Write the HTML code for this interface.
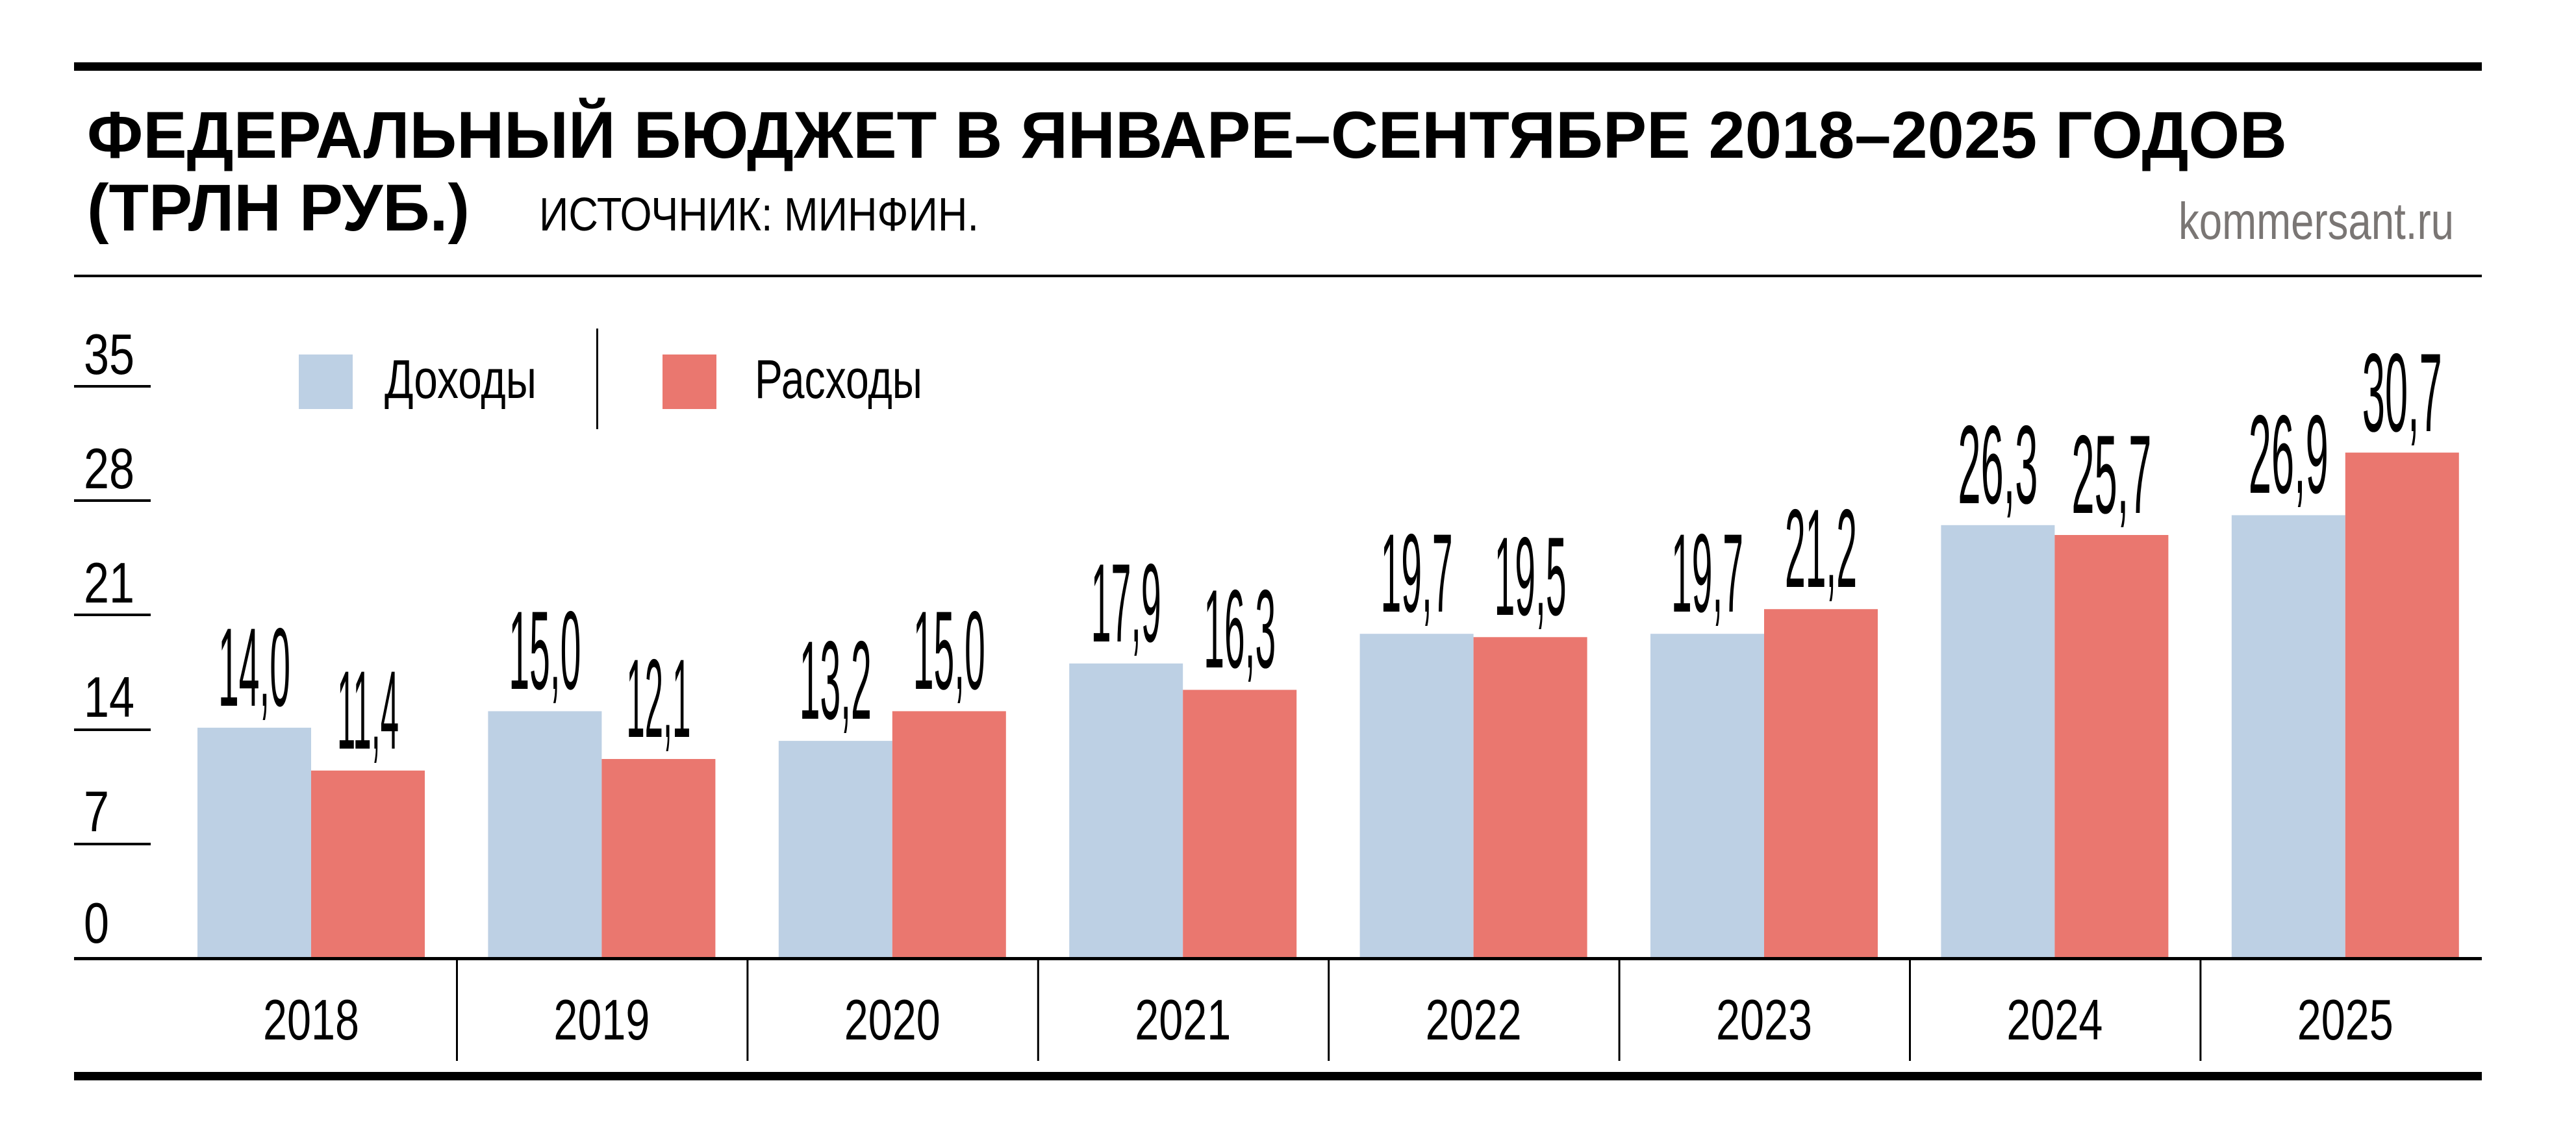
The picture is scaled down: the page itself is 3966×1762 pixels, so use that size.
<!DOCTYPE html>
<html><head><meta charset="utf-8"><style>
html,body{margin:0;padding:0;background:#fff;}
svg{display:block;}
text{font-family:"Liberation Sans",sans-serif;}
</style></head><body>
<svg width="3966" height="1762" viewBox="0 0 3966 1762" xmlns="http://www.w3.org/2000/svg">
<rect x="0" y="0" width="3966" height="1762" fill="#fff"/>
<rect x="114" y="96" width="3707" height="13" fill="#000"/>
<text x="134" y="243" font-size="102" font-weight="bold" textLength="3387" lengthAdjust="spacingAndGlyphs">ФЕДЕРАЛЬНЫЙ БЮДЖЕТ В ЯНВАРЕ–СЕНТЯБРЕ 2018–2025 ГОДОВ</text>
<text x="134" y="355" font-size="102" font-weight="bold" textLength="589" lengthAdjust="spacingAndGlyphs">(ТРЛН РУБ.)</text>
<text x="830" y="355" font-size="72" textLength="677" lengthAdjust="spacingAndGlyphs">ИСТОЧНИК: МИНФИН.</text>
<text x="3354" y="368" font-size="80" fill="#7a7674" textLength="424" lengthAdjust="spacingAndGlyphs">kommersant.ru</text>
<rect x="114" y="423" width="3707" height="4" fill="#000"/>

<!-- legend -->
<rect x="460" y="546" width="83" height="84" fill="#bdd0e4"/>
<text x="592" y="613" font-size="84" textLength="234" lengthAdjust="spacingAndGlyphs">Доходы</text>
<rect x="918" y="506" width="3" height="155" fill="#000"/>
<rect x="1020" y="546" width="83" height="84" fill="#ea776f"/>
<text x="1162" y="613" font-size="84" textLength="258" lengthAdjust="spacingAndGlyphs">Расходы</text>

<!-- y ticks -->
<g font-size="88">
<text x="129" y="576" textLength="78" lengthAdjust="spacingAndGlyphs">35</text>
<rect x="114" y="593" width="118" height="4"/>
<text x="129" y="752" textLength="78" lengthAdjust="spacingAndGlyphs">28</text>
<rect x="114" y="769" width="118" height="4"/>
<text x="129" y="928" textLength="78" lengthAdjust="spacingAndGlyphs">21</text>
<rect x="114" y="945" width="118" height="4"/>
<text x="129" y="1104" textLength="78" lengthAdjust="spacingAndGlyphs">14</text>
<rect x="114" y="1122" width="118" height="4"/>
<text x="129" y="1280" textLength="39" lengthAdjust="spacingAndGlyphs">7</text>
<rect x="114" y="1298" width="118" height="4"/>
<text x="129" y="1452" textLength="39" lengthAdjust="spacingAndGlyphs">0</text>
</g>

<!-- bars -->
<g fill="#bdd0e4">
<rect x="304" y="1120.8" width="175" height="355.2"/>
<rect x="751.4" y="1095.4" width="175" height="380.6"/>
<rect x="1198.8" y="1141.1" width="175" height="334.9"/>
<rect x="1646.2" y="1021.9" width="175" height="454.1"/>
<rect x="2093.6" y="976.2" width="175" height="499.8"/>
<rect x="2541" y="976.2" width="175" height="499.8"/>
<rect x="2988.4" y="808.8" width="175" height="667.2"/>
<rect x="3435.8" y="793.5" width="175" height="682.5"/>
</g>
<g fill="#ea776f">
<rect x="479" y="1186.8" width="175" height="289.2"/>
<rect x="926.4" y="1169" width="175" height="307"/>
<rect x="1373.8" y="1095.4" width="175" height="380.6"/>
<rect x="1821.2" y="1062.5" width="175" height="413.5"/>
<rect x="2268.6" y="981.3" width="175" height="494.7"/>
<rect x="2716" y="938.2" width="175" height="537.8"/>
<rect x="3163.4" y="824" width="175" height="652"/>
<rect x="3610.8" y="697.1" width="175" height="778.9"/>
</g>

<!-- value labels -->
<g font-size="172" text-anchor="middle" lengthAdjust="spacingAndGlyphs">
<text x="391.5" y="1087" textLength="111" lengthAdjust="spacingAndGlyphs">14,0</text>
<text x="566.5" y="1153" textLength="95" lengthAdjust="spacingAndGlyphs">11,4</text>
<text x="838.9" y="1061" textLength="111" lengthAdjust="spacingAndGlyphs">15,0</text>
<text x="1013.9" y="1135" textLength="99" lengthAdjust="spacingAndGlyphs">12,1</text>
<text x="1286.3" y="1107" textLength="111" lengthAdjust="spacingAndGlyphs">13,2</text>
<text x="1461.3" y="1061" textLength="111" lengthAdjust="spacingAndGlyphs">15,0</text>
<text x="1733.7" y="988" textLength="108" lengthAdjust="spacingAndGlyphs">17,9</text>
<text x="1908.7" y="1028" textLength="111" lengthAdjust="spacingAndGlyphs">16,3</text>
<text x="2181.1" y="942" textLength="111" lengthAdjust="spacingAndGlyphs">19,7</text>
<text x="2356.1" y="947" textLength="111" lengthAdjust="spacingAndGlyphs">19,5</text>
<text x="2628.5" y="942" textLength="111" lengthAdjust="spacingAndGlyphs">19,7</text>
<text x="2803.5" y="904" textLength="111" lengthAdjust="spacingAndGlyphs">21,2</text>
<text x="3075.9" y="775" textLength="123" lengthAdjust="spacingAndGlyphs">26,3</text>
<text x="3250.9" y="790" textLength="123" lengthAdjust="spacingAndGlyphs">25,7</text>
<text x="3523.3" y="759" textLength="123" lengthAdjust="spacingAndGlyphs">26,9</text>
<text x="3698.3" y="664" textLength="123" lengthAdjust="spacingAndGlyphs">30,7</text>
</g>

<!-- axis -->
<rect x="114" y="1474" width="3707" height="5" fill="#000"/>
<g fill="#000">
<rect x="702" y="1478" width="3" height="156"/>
<rect x="1149.4" y="1478" width="3" height="156"/>
<rect x="1596.8" y="1478" width="3" height="156"/>
<rect x="2044.2" y="1478" width="3" height="156"/>
<rect x="2491.6" y="1478" width="3" height="156"/>
<rect x="2939" y="1478" width="3" height="156"/>
<rect x="3386.4" y="1478" width="3" height="156"/>
</g>
<g font-size="88" text-anchor="middle">
<text x="479" y="1601" textLength="148" lengthAdjust="spacingAndGlyphs">2018</text>
<text x="926.4" y="1601" textLength="148" lengthAdjust="spacingAndGlyphs">2019</text>
<text x="1373.8" y="1601" textLength="148" lengthAdjust="spacingAndGlyphs">2020</text>
<text x="1821.2" y="1601" textLength="148" lengthAdjust="spacingAndGlyphs">2021</text>
<text x="2268.6" y="1601" textLength="148" lengthAdjust="spacingAndGlyphs">2022</text>
<text x="2716" y="1601" textLength="148" lengthAdjust="spacingAndGlyphs">2023</text>
<text x="3163.4" y="1601" textLength="148" lengthAdjust="spacingAndGlyphs">2024</text>
<text x="3610.8" y="1601" textLength="148" lengthAdjust="spacingAndGlyphs">2025</text>
</g>
<rect x="114" y="1651" width="3707" height="13" fill="#000"/>
</svg>
</body></html>
